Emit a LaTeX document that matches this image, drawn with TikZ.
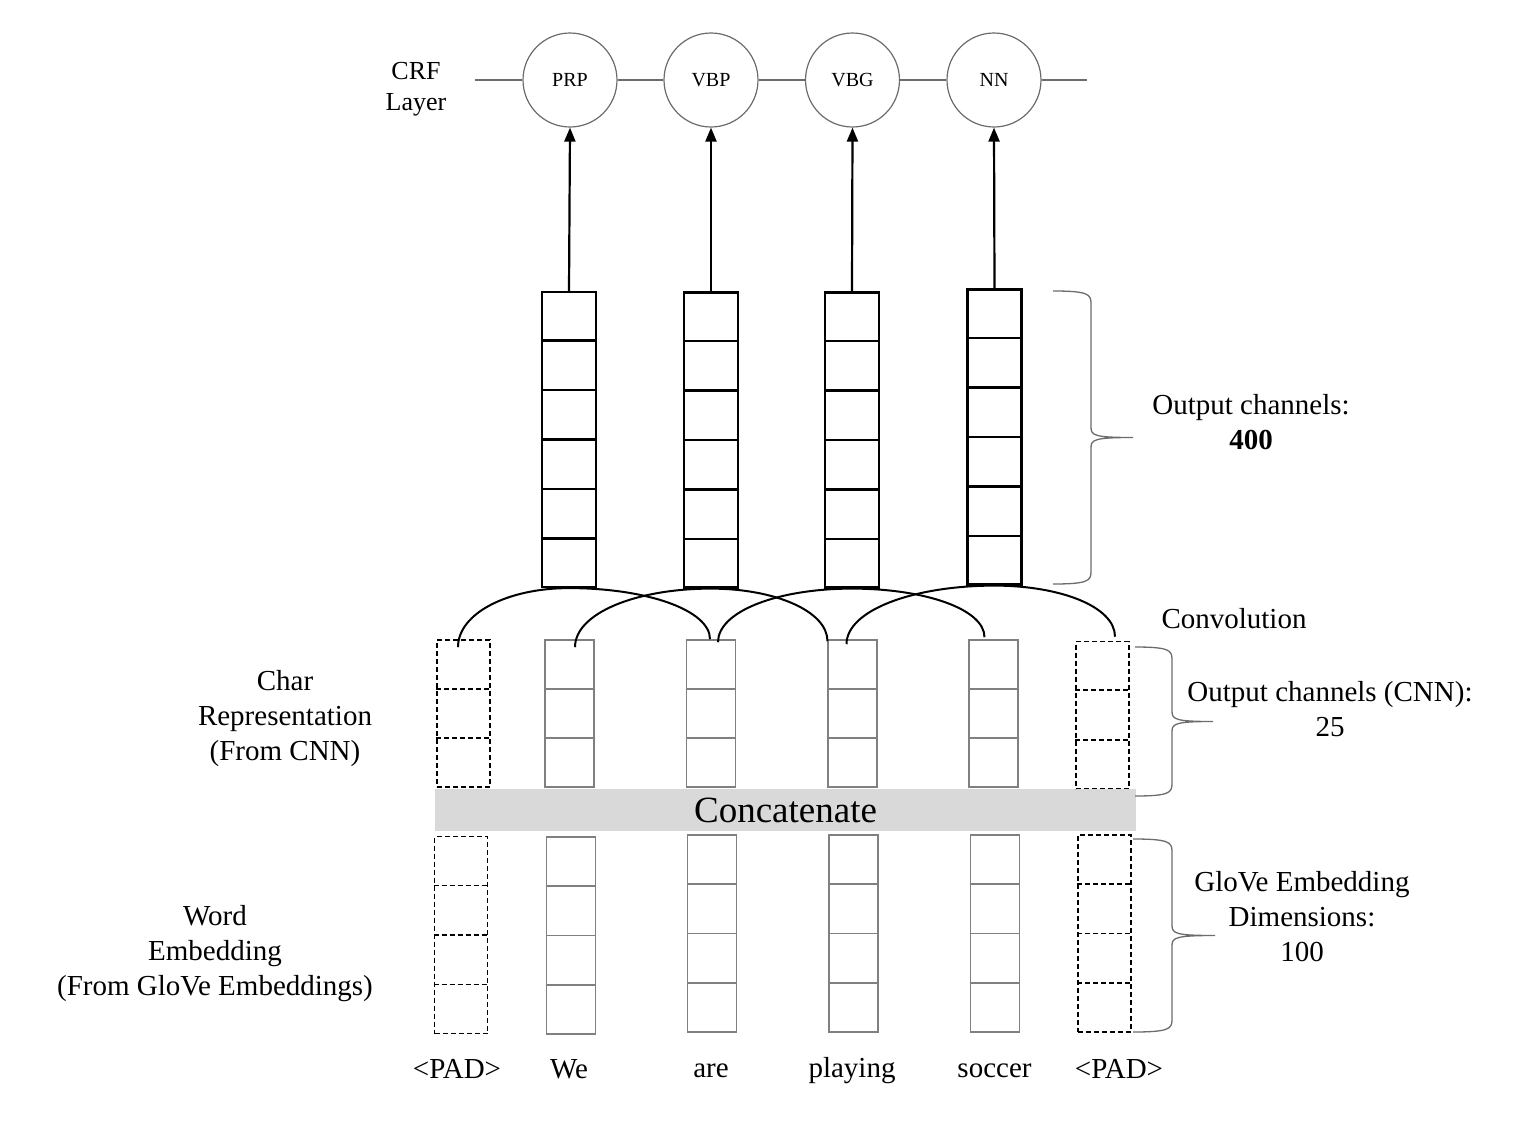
\documentclass[tikz,border=0pt]{standalone}
\usepackage{fontspec}
\setmainfont{Liberation Serif}
\usetikzlibrary{arrows.meta,calc}

\tikzset{
  tag/.style={circle, draw=gray!85!black, line width=1.2pt, minimum size=94pt, inner sep=0pt, font=\fontsize{20}{24}\selectfont},
  outstack/.style={draw=black, line width=2.2pt, minimum width=54pt, minimum height=295pt, inner sep=0pt},
  vecstack/.style={draw=gray, line width=1.6pt, minimum width=49pt, inner sep=0pt},
  padstack/.style={draw=black, dash pattern=on 5pt off 3pt, line width=1.6pt, minimum width=53pt, inner sep=0pt},
  lab/.style={font=\fontsize{29}{35}\selectfont, align=center, inner sep=0pt},
  conv/.style={line width=2pt},
  uparrow/.style={-{Triangle[length=14pt,width=11pt]}, line width=2.2pt},
  bracestyle/.style={draw=gray!85!black, line width=1.3pt},
}

% curly brace: left x, spine x, tip x, top y, bottom y
\newcommand{\sidebrace}[5]{%
  \pgfmathsetmacro{\bm}{(#4+#5)/2}
  \draw[bracestyle] (#1,#4) .. controls ({#2-4},#4) and (#2,{#4+3}) .. (#2,{#4+12})
    -- (#2,{\bm-10}) .. controls (#2,{\bm-2}) and ({#2+4},\bm) .. (#3,\bm)
    .. controls ({#2+4},\bm) and (#2,{\bm+2}) .. (#2,{\bm+10})
    -- (#2,{#5-12}) .. controls (#2,{#5-3}) and ({#2-4},#5) .. (#1,#5);
}

\begin{document}
\begin{tikzpicture}[x=1pt,y=-1pt]
  \useasboundingbox (0,0) rectangle (1519,1125);

  % CRF layer
  \node[lab, font=\fontsize{26}{31}\selectfont, anchor=north] (crflabel) at (416,62) {CRF\\Layer};
  \coordinate (crfstart) at (475,80);
  \coordinate (crfend) at (1087,80);
  \node[tag] (prp) at (570,80) {PRP};
  \node[tag] (vbp) at (711,80) {VBP};
  \node[tag] (vbg) at (852.5,80) {VBG};
  \node[tag] (nn) at (994,80) {NN};
  \draw[gray!85!black, line width=1.5pt] (crfstart) -- (prp) -- (vbp) -- (vbg) -- (nn) -- (crfend);

  % Output channels of the convolution
  \foreach \i/\x/\y in {1/569/439.5, 2/711/440, 3/852/440, 4/994.5/437}{
    \node[outstack] (out\i) at (\x,\y) {};
    \foreach \k in {1,...,5}
      \draw[line width=2.2pt] ($(out\i.north west)!\k/6!(out\i.south west)$) -- ($(out\i.north east)!\k/6!(out\i.south east)$);
  }

  % Arrows to the CRF tags
  \draw[uparrow] (out1.north) -- (prp.south);
  \draw[uparrow] (out2.north) -- (vbp.south);
  \draw[uparrow] (out3.north) -- (vbg.south);
  \draw[uparrow] (out4.north) -- (nn.south);

  % Concatenate bar
  \node[fill=gray!30, minimum width=701pt, minimum height=42pt, inner sep=0pt, font=\fontsize{37}{40}\selectfont] (concat) at (785.5,810) {Concatenate};

  % Char representation
  \foreach \i/\x/\y/\s in {0/463.5/713.5/padstack, 1/569.5/713.5/vecstack, 2/711/713.5/vecstack, 3/852.5/713.5/vecstack, 4/993.5/713.5/vecstack, 5/1102.5/715/padstack}{
    \node[\s, minimum height=147pt] (c\i) at (\x,\y) {};
    \foreach \k in {1,2}
      \draw[\s] ($(c\i.north west)!\k/3!(c\i.south west)$) -- ($(c\i.north east)!\k/3!(c\i.south east)$);
  }

  % Word embedding
  \foreach \i/\x/\y/\s in {0/461/935/padstack, 1/571/935.5/vecstack, 2/712/933.5/vecstack, 3/853.5/933.5/vecstack, 4/995/933.5/vecstack, 5/1104.5/933.5/padstack}{
    \node[\s, minimum height=197pt] (w\i) at (\x,\y) {};
    \foreach \k in {1,2,3}
      \draw[\s] ($(w\i.north west)!\k/4!(w\i.south west)$) -- ($(w\i.north east)!\k/4!(w\i.south east)$);
  }

  % Convolution windows
  \draw[conv] ($(c0.north)+(-5.5,8)$) .. controls +(0,-34) and +(-61,0) .. (out1.south)
    .. controls +(78,0) and +(0,-29) .. ($(c2.north)+(-1,0)$);
  \draw[conv] ($(c1.north)+(5.5,8)$) .. controls +(0,-34) and +(-75,0) .. (out2.south)
    .. controls +(64,0) and +(0,-30) .. ($(c3.north)+(-25,2)$);
  \draw[conv] ($(c2.north)+(7,3)$) .. controls +(0,-31) and +(-74,0) .. (out3.south)
    .. controls +(73,0) and +(0,-28) .. ($(c4.north)+(-9,-2)$);
  \draw[conv] ($(c3.north)+(-6,5)$) .. controls +(0,-34) and +(-81,0) .. (out4.south)
    .. controls +(66,0) and +(0,-30) .. ($(c5.north)+(12.5,-4)$);

  % Braces
  \sidebrace{1053}{1091}{1133}{291}{584}
  \sidebrace{1135}{1172}{1213}{647}{796}
  \sidebrace{1133}{1172}{1215}{839}{1032}

  % Labels
  \node[lab, anchor=north] (outlabel) at (1251,394) {Output channels:\\\textbf{400}};
  \node[lab, anchor=north] (convlabel) at (1234,608) {Convolution};
  \node[lab, anchor=north] (cnnlabel) at (1330,681) {Output channels (CNN):\\25};
  \node[lab, anchor=north] (glovelabel) at (1302,871) {GloVe Embedding\\Dimensions:\\100};
  \node[lab, anchor=north] (charlabel) at (285,670) {Char\\Representation\\(From CNN)};
  \node[lab, anchor=north] (wordlabel) at (215,905) {Word\\Embedding\\(From GloVe Embeddings)};

  % Sentence
  \node[lab, anchor=base] (tok0) at (457,1078) {<PAD>};
  \node[lab, anchor=base] (tok1) at (569,1078) {We};
  \node[lab, anchor=base] (tok2) at (711,1077) {are};
  \node[lab, anchor=base] (tok3) at (852,1077) {playing};
  \node[lab, anchor=base] (tok4) at (994.5,1077) {soccer};
  \node[lab, anchor=base] (tok5) at (1119,1078) {<PAD>};
\end{tikzpicture}
\end{document}
